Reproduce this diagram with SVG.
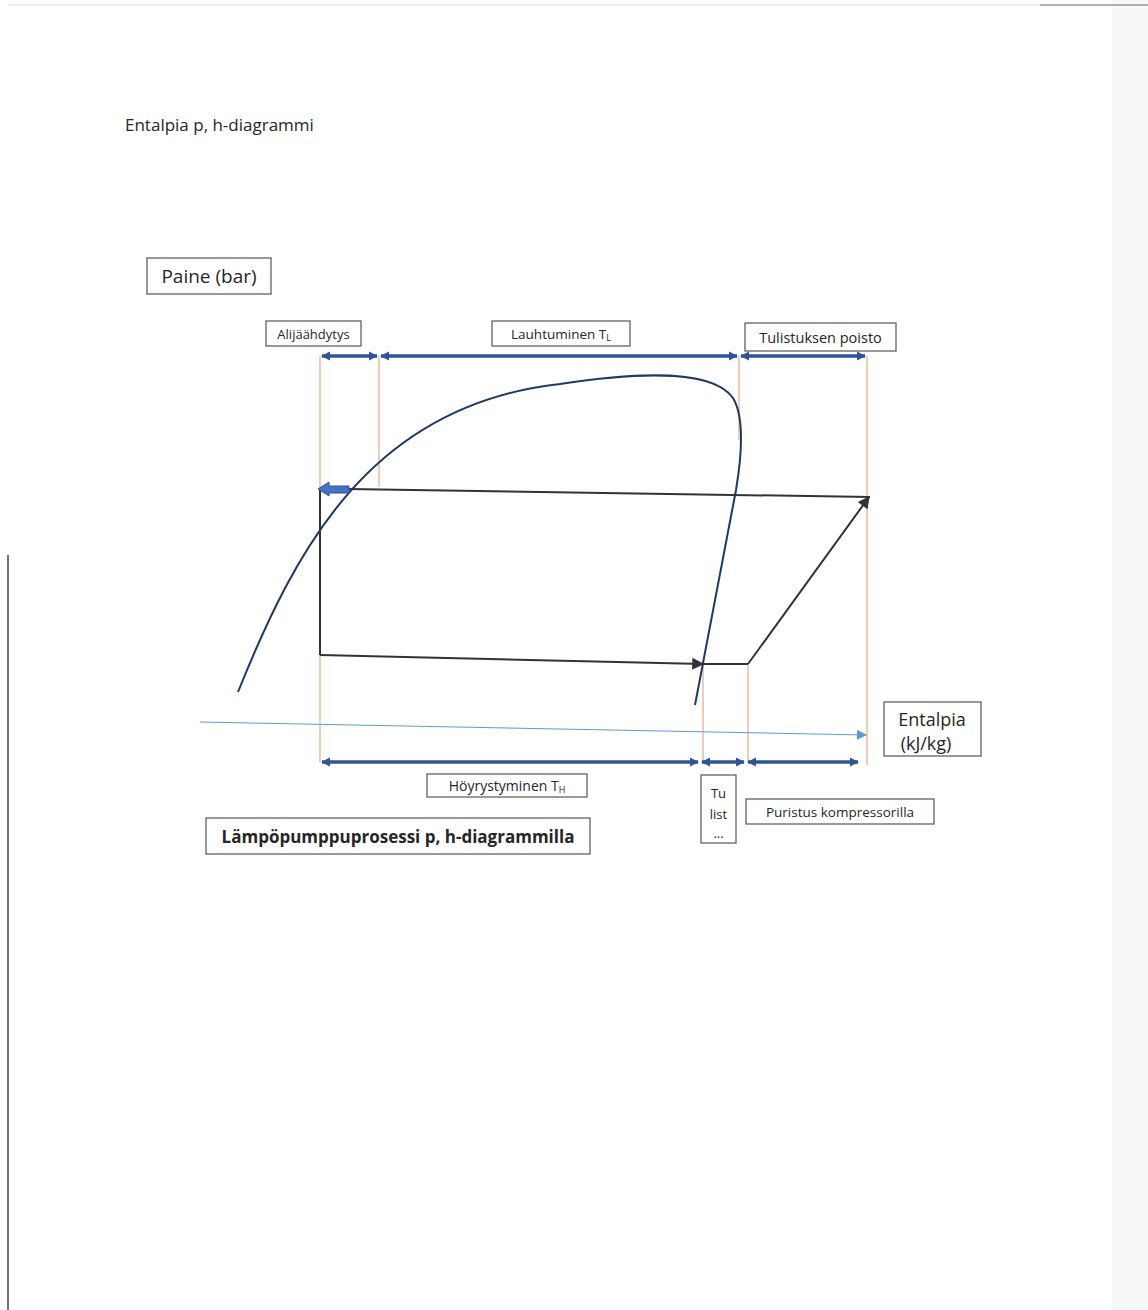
<svg xmlns="http://www.w3.org/2000/svg" width="1148" height="1310" viewBox="0 0 1148 1310">
<defs>
<style>
text{font-family:"Open Sans","Liberation Sans",sans-serif;fill:#262626}
.box{fill:#fff;stroke:#555;stroke-width:1.2}
.guide{stroke:#e2a985;stroke-width:1.2;fill:none}
.span{stroke:#2f5597;stroke-width:3.5;fill:none;marker-start:url(#ah);marker-end:url(#ah)}
.cyc{stroke:#333;stroke-width:2;fill:none}
</style>
<marker id="ah" viewBox="0 0 10 10" refX="9" refY="5" markerWidth="2.6" markerHeight="2.6" orient="auto-start-reverse" markerUnits="strokeWidth">
<path d="M0,0 L10,5 L0,10 z" fill="#2f5597"/>
</marker>
<marker id="ak" viewBox="0 0 10 10" refX="9" refY="5" markerWidth="7" markerHeight="6" orient="auto" markerUnits="strokeWidth">
<path d="M0,0 L10,5 L0,10 z" fill="#333"/>
</marker>
<marker id="ab" viewBox="0 0 10 10" refX="9" refY="5" markerWidth="11" markerHeight="10" orient="auto" markerUnits="strokeWidth">
<path d="M0,0 L10,5 L0,10 z" fill="#5b9bd5"/>
</marker>
</defs>
<rect width="1148" height="1310" fill="#fff"/>
<rect x="1112" y="0" width="36" height="1310" fill="#f6f8f9"/>
<line x1="8" y1="555" x2="8" y2="1310" stroke="#444" stroke-width="1.5"/>
<line x1="8" y1="5" x2="1040" y2="5" stroke="#dde3e8" stroke-width="1"/>
<line x1="1040" y1="5" x2="1148" y2="5" stroke="#666" stroke-width="1.2"/>

<g id="title"><text x="125" y="131" font-size="17">Entalpia p, h-diagrammi</text></g>

<g id="connectors">
<line class="guide" x1="320" y1="356" x2="320" y2="762"/>
<line class="guide" x1="379" y1="356" x2="379" y2="487"/>
<line class="guide" x1="739" y1="356" x2="739" y2="440"/>
<line class="guide" x1="867" y1="356" x2="867" y2="765"/>
<line class="guide" x1="703" y1="665" x2="703" y2="762"/>
<line class="guide" x1="748" y1="665" x2="748" y2="762"/>
<line class="span" x1="322" y1="356" x2="377" y2="356"/>
<line class="span" x1="381" y1="356" x2="737" y2="356"/>
<line class="span" x1="741" y1="356" x2="865" y2="356"/>
<line class="span" x1="322" y1="762" x2="698" y2="762"/>
<line class="span" x1="702" y1="762" x2="744" y2="762"/>
<line class="span" x1="748" y1="762" x2="858" y2="762"/>
<line x1="200" y1="722" x2="866" y2="735" stroke="#5b9bd5" stroke-width="1" marker-end="url(#ab)"/>
<path d="M238,692 C295,550 370,405 560,384 C650,370 715,372 733,398 C745,418 741,460 736,490 L695,705" stroke="#1f3864" stroke-width="2" fill="none"/>
<line class="cyc" x1="870" y1="497" x2="348" y2="489"/>
<path class="cyc" d="M320,489 L320,655"/>
<line class="cyc" x1="320" y1="655" x2="703" y2="664" marker-end="url(#ak)"/>
<line class="cyc" x1="703" y1="664" x2="748" y2="664"/>
<line class="cyc" x1="748" y1="664" x2="869" y2="497" marker-end="url(#ak)"/>
<path d="M318,489 L329,482 L329,486 L349,486 L349,493 L329,493 L329,496 z" fill="#4472c4" stroke="#2f5597" stroke-width="1"/>
</g>

<g id="paine"><rect class="box" x="147" y="258" width="124" height="36"/><text x="209" y="283" font-size="19" text-anchor="middle">Paine (bar)</text></g>
<g id="alijaahdytys"><rect class="box" x="266" y="321" width="95" height="25"/><text x="313.5" y="339" font-size="13" text-anchor="middle">Alijäähdytys</text></g>
<g id="lauhtuminen"><rect class="box" x="492" y="321" width="138" height="25"/><text x="561" y="339" font-size="13.5" text-anchor="middle">Lauhtuminen T<tspan font-size="9" dy="2">L</tspan></text></g>
<g id="tulistuksen"><rect class="box" x="745" y="323" width="151" height="28"/><text x="820.5" y="343" font-size="14.5" text-anchor="middle">Tulistuksen poisto</text></g>
<g id="entalpia"><rect class="box" x="884" y="702" width="97" height="54"/><text x="932" y="726" font-size="18" text-anchor="middle">Entalpia</text><text x="926" y="750" font-size="18" text-anchor="middle">(kJ/kg)</text></g>
<g id="hoyrystyminen"><rect class="box" x="427" y="774" width="160" height="23"/><text x="507" y="791" font-size="14" text-anchor="middle">Höyrystyminen T<tspan font-size="9" dy="2">H</tspan></text></g>
<g id="tulist"><rect class="box" x="701" y="775" width="35" height="68"/><text x="718.5" y="798" font-size="13" text-anchor="middle">Tu</text><text x="718.5" y="819" font-size="13" text-anchor="middle">list</text><text x="718.5" y="838" font-size="13" text-anchor="middle">...</text></g>
<g id="puristus"><rect class="box" x="746" y="799" width="188" height="25"/><text x="840" y="817" font-size="13.5" text-anchor="middle">Puristus kompressorilla</text></g>
<g id="lampopumppu"><rect class="box" x="206" y="818" width="384" height="36"/><text x="398" y="843" font-size="17" font-weight="bold" text-anchor="middle">Lämpöpumppuprosessi p, h-diagrammilla</text></g>
</svg>
